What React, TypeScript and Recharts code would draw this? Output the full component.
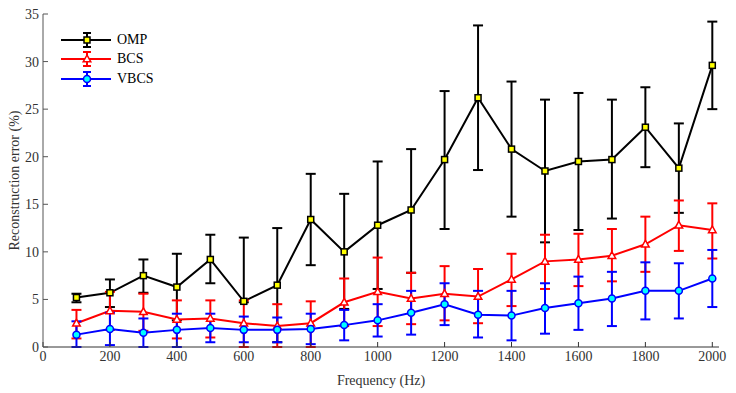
import React from "react";
import {
  LineChart,
  Line,
  XAxis,
  YAxis,
  ErrorBar,
  Legend,
} from "recharts";

const freqs = [100, 200, 300, 400, 500, 600, 700, 800, 900, 1000, 1100, 1200, 1300, 1400, 1500, 1600, 1700, 1800, 1900, 2000];

const ompMean = [5.2, 5.7, 7.5, 6.3, 9.2, 4.8, 6.5, 13.4, 10.0, 12.8, 14.4, 19.7, 26.2, 20.8, 18.5, 19.5, 19.7, 23.1, 18.8, 29.6];
const ompHigh = [5.6, 7.1, 9.2, 9.8, 11.8, 11.5, 12.5, 18.2, 16.1, 19.5, 20.8, 26.9, 33.8, 27.9, 26.0, 26.7, 26.0, 27.3, 23.5, 34.2];
const ompLow = [4.7, 4.2, 5.7, 2.8, 6.7, 4.7, 0.5, 8.6, 4.0, 6.1, 7.8, 12.4, 18.6, 13.7, 11.0, 12.3, 13.5, 18.9, 14.1, 25.0];

const bcsMean = [2.5, 3.8, 3.7, 2.9, 3.0, 2.5, 2.2, 2.5, 4.7, 5.8, 5.1, 5.6, 5.3, 7.1, 9.0, 9.2, 9.6, 10.8, 12.8, 12.3];
const bcsHigh = [3.9, 5.8, 5.6, 4.9, 4.9, 4.9, 4.5, 4.8, 7.2, 9.4, 7.8, 8.5, 8.2, 9.8, 11.8, 11.9, 12.4, 13.7, 15.4, 15.1];
const bcsLow = [0.9, 1.8, 1.7, 0.9, 1.0, 0.0, 0.0, 0.0, 2.2, 2.2, 2.4, 2.8, 2.5, 4.3, 6.1, 6.4, 6.9, 7.9, 10.1, 9.3];

const vbcsMean = [1.3, 1.9, 1.5, 1.8, 2.0, 1.8, 1.8, 1.9, 2.3, 2.8, 3.6, 4.5, 3.4, 3.3, 4.1, 4.6, 5.1, 5.9, 5.9, 7.2];
const vbcsHigh = [2.7, 3.6, 3.0, 3.5, 3.5, 3.2, 3.1, 3.5, 3.9, 4.5, 5.9, 6.7, 5.9, 5.9, 6.7, 7.4, 7.9, 8.9, 8.8, 10.2];
const vbcsLow = [0.0, 0.2, 0.0, 0.0, 0.5, 0.5, 0.5, 0.3, 0.7, 1.1, 1.3, 2.3, 1.0, 0.7, 1.4, 1.8, 2.2, 2.9, 3.0, 4.2];

const xTicks = [0, 200, 400, 600, 800, 1000, 1200, 1400, 1600, 1800, 2000];
const yTicks = [0, 5, 10, 15, 20, 25, 30, 35];

const data = freqs.map((f, i) => ({
  f,
  omp: ompMean[i],
  ompErr: [ompMean[i] - ompLow[i], ompHigh[i] - ompMean[i]],
  bcs: bcsMean[i],
  bcsErr: [bcsMean[i] - bcsLow[i], bcsHigh[i] - bcsMean[i]],
  vbcs: vbcsMean[i],
  vbcsErr: [vbcsMean[i] - vbcsLow[i], vbcsHigh[i] - vbcsMean[i]],
}));

const font = "'Liberation Serif', serif";
const tickStyle = { fontSize: 14, fill: "#333" };

// markers like the matlab figure
const SquareDot = (props: any) => {
  const { cx, cy, index } = props;
  return <rect key={`sq-${index}`} x={cx - 3} y={cy - 3} width={6} height={6} fill="#ffff00" stroke="#000" strokeWidth={1.5} />;
};

const TriDot = (props: any) => {
  const { cx, cy, index } = props;
  return (
    <polygon
      key={`tr-${index}`}
      points={`${cx},${cy - 4} ${cx - 3.8},${cy + 2.8} ${cx + 3.8},${cy + 2.8}`}
      fill="#fff"
      stroke="#ff0000"
      strokeWidth={1.5}
    />
  );
};

const CircleDot = (props: any) => {
  const { cx, cy, index } = props;
  return <circle key={`ci-${index}`} cx={cx} cy={cy} r={3.5} fill="#00ffff" stroke="#0000ff" strokeWidth={1.5} />;
};

const legendItems = [
  { name: "OMP", color: "#000", marker: "square" },
  { name: "BCS", color: "#ff0000", marker: "triangle" },
  { name: "VBCS", color: "#0000ff", marker: "circle" },
];

const LegendContent = () => (
  <div style={{ fontFamily: font, fontSize: 14, color: "#000" }}>
    {legendItems.map((it) => (
      <div key={it.name} style={{ display: "flex", alignItems: "center", height: 19.5 }}>
        <svg width={50} height={20}>
          <line x1={0} y1={10} x2={50} y2={10} stroke={it.color} strokeWidth={2} />
          <line x1={26} y1={3} x2={26} y2={17} stroke={it.color} strokeWidth={2} />
          <line x1={22} y1={3} x2={30} y2={3} stroke={it.color} strokeWidth={2} />
          <line x1={22} y1={17} x2={30} y2={17} stroke={it.color} strokeWidth={2} />
          {it.marker === "square" && <rect x={23} y={7} width={6} height={6} fill="#ffff00" stroke="#000" strokeWidth={1.5} />}
          {it.marker === "triangle" && <polygon points="26,6 22.2,12.8 29.8,12.8" fill="#fff" stroke="#ff0000" strokeWidth={1.5} />}
          {it.marker === "circle" && <circle cx={26} cy={10} r={3.5} fill="#00ffff" stroke="#0000ff" strokeWidth={1.5} />}
        </svg>
        <span style={{ marginLeft: 6 }}>{it.name}</span>
      </div>
    ))}
  </div>
);

export default function App() {
  return (
    <div style={{ width: 736, height: 393 }}>
      <style>{`body{margin:0} .recharts-wrapper text{font-family:'Liberation Serif', serif;}`}</style>
      <LineChart width={736} height={393} data={data} margin={{ top: 14, right: 17, bottom: 0, left: 0 }}>
        <XAxis
          dataKey="f"
          type="number"
          domain={[0, 2020]}
          ticks={xTicks}
          tick={tickStyle}
          tickSize={-5}
          tickMargin={9}
          height={46}
          axisLine={{ stroke: "#333" }}
          tickLine={{ stroke: "#333" }}
          label={{ value: "Frequency (Hz)", position: "insideBottom", offset: 8, style: { fontSize: 14, fill: "#333" } }}
        />
        <XAxis
          xAxisId="top"
          orientation="top"
          dataKey="f"
          type="number"
          domain={[0, 2020]}
          ticks={xTicks}
          tick={false}
          tickSize={-5}
          height={0}
          axisLine={{ stroke: "#999" }}
          tickLine={{ stroke: "#555" }}
        />
        <YAxis
          type="number"
          domain={[0, 35]}
          ticks={yTicks}
          tick={tickStyle}
          tickSize={-5}
          tickMargin={9}
          width={43}
          axisLine={{ stroke: "#555" }}
          tickLine={{ stroke: "#555" }}
          label={{ value: "Reconstruction error (%)", angle: -90, position: "insideLeft", offset: 14, style: { textAnchor: "middle", fontSize: 14, fill: "#333" } }}
        />
        <YAxis
          yAxisId="right"
          orientation="right"
          type="number"
          domain={[0, 35]}
          ticks={yTicks}
          tick={false}
          tickSize={-5}
          width={0}
          axisLine={{ stroke: "#333" }}
          tickLine={{ stroke: "#555" }}
        />
        <Legend
          layout="vertical"
          align="center"
          verticalAlign="middle"
          content={<LegendContent />}
          wrapperStyle={{ top: 30, left: 61, width: "auto" }}
        />
        <Line dataKey="omp" stroke="#000" strokeWidth={2} dot={SquareDot} activeDot={false} isAnimationActive={false}>
          <ErrorBar dataKey="ompErr" stroke="#000" strokeWidth={2} width={5} direction="y" />
        </Line>
        <Line dataKey="bcs" stroke="#ff0000" strokeWidth={2} dot={TriDot} activeDot={false} isAnimationActive={false}>
          <ErrorBar dataKey="bcsErr" stroke="#ff0000" strokeWidth={2} width={5} direction="y" />
        </Line>
        <Line dataKey="vbcs" stroke="#0000ff" strokeWidth={2} dot={CircleDot} activeDot={false} isAnimationActive={false}>
          <ErrorBar dataKey="vbcsErr" stroke="#0000ff" strokeWidth={2} width={5} direction="y" />
        </Line>
      </LineChart>
    </div>
  );
}
